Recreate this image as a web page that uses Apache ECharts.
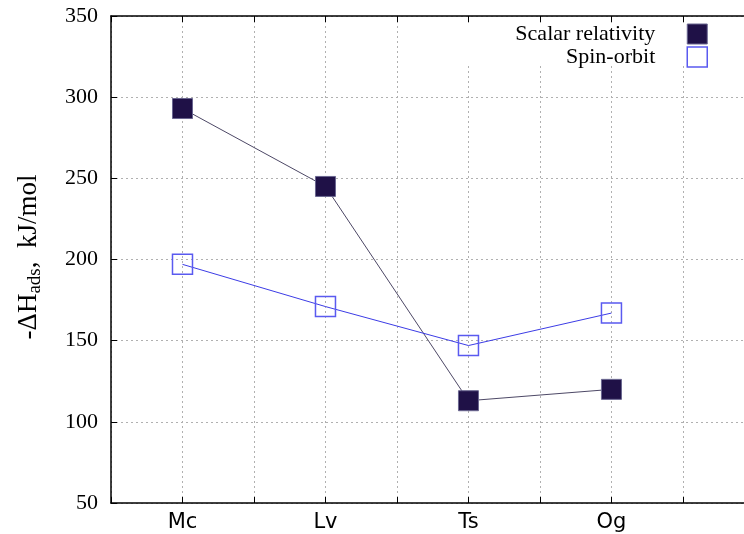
<!DOCTYPE html>
<html>
<head>
<meta charset="utf-8">
<script src="https://cdn.jsdelivr.net/npm/echarts@6/dist/echarts.min.js"></script>
<style>html,body{margin:0;padding:0;background:#fff}#c{width:744px;height:534px}</style>
</head>
<body>
<div id="c"></div>
<script>
var categories = ['Mc', 'Lv', 'Ts', 'Og'];
var scalarRelativity = [293, 245, 113, 120];
var spinOrbit = [197, 171, 147, 167];
var yTicks = [50, 100, 150, 200, 250, 300, 350];

function toPoints(arr) { return arr.map(function (v, i) { return [i + 1, v]; }); }

var chart = echarts.init(document.getElementById('c'));
var serif = 'Liberation Serif';
var gridLine = { show: true, lineStyle: { color: '#b0b0b0', type: [2, 3], width: 1 } };
var xMax = 4.927;
chart.setOption({
  animation: false,
  backgroundColor: '#fff',
  grid: { left: 111, right: 0, top: 16, bottom: 31 },
  legend: {
    orient: 'vertical', right: 36, top: 23, align: 'right', padding: 0,
    itemWidth: 20, itemHeight: 20, itemGap: 1,
    textStyle: { fontFamily: serif, fontSize: 22, lineHeight: 20, color: '#000', padding: [0, 27, 0, 0] },
    data: [
      { name: 'Scalar relativity', icon: 'rect', itemStyle: { color: '#1f1147', borderColor: '#6a6690', borderWidth: 1 } },
      { name: 'Spin-orbit', icon: 'rect', itemStyle: { color: '#fff', borderColor: '#5a5af0', borderWidth: 1.5 } }
    ]
  },
  graphic: [
    { type: 'rect', z: 1, shape: { x: 440, y: 23, width: 310, height: 43 }, style: { fill: '#fff' } },
    {
      type: 'text', z: 10, x: 29, y: 257, rotation: Math.PI / 2,
      style: {
        text: '{a|-ΔH}{s|ads}{a|,  kJ/mol}',
        align: 'center', verticalAlign: 'middle',
        rich: {
          a: { fontFamily: serif, fontSize: 27, fill: '#000', lineHeight: 32, verticalAlign: 'middle' },
          s: { fontFamily: serif, fontSize: 19, fill: '#000', lineHeight: 32, verticalAlign: 'bottom', padding: [10, 0, 0, 0] }
        }
      }
    }
  ],
  xAxis: [{
    type: 'value', min: 0.5, max: xMax, interval: 0.5,
    axisLine: { show: true, lineStyle: { color: '#000', width: 1.5 } },
    axisTick: { show: true, inside: true, length: 6, lineStyle: { color: '#000' } },
    axisLabel: {
      margin: 9, fontFamily: 'DejaVu Sans', fontSize: 21, color: '#000',
      showMaxLabel: false,
      formatter: function (v) { var i = Math.round(v); return (Math.abs(v - i) < 1e-6 && categories[i - 1]) ? categories[i - 1] : ''; }
    },
    splitLine: gridLine
  }, {
    type: 'value', min: 0.5, max: xMax, interval: 0.5, position: 'top',
    axisLine: { show: true, lineStyle: { color: '#000', width: 1.5 } },
    axisTick: { show: true, inside: true, length: 6, lineStyle: { color: '#000' } },
    axisLabel: { show: false }, splitLine: { show: false }
  }],
  yAxis: {
    type: 'value', min: yTicks[0], max: yTicks[yTicks.length - 1], interval: 50,
    axisLine: { show: true, lineStyle: { color: '#000', width: 1.5 } },
    axisTick: { show: true, inside: true, length: 6, lineStyle: { color: '#000' } },
    axisLabel: { margin: 13, fontFamily: serif, fontSize: 22, color: '#000' },
    splitLine: gridLine
  },
  series: [{
    name: 'Scalar relativity', type: 'line', z: 3,
    data: toPoints(scalarRelativity),
    symbol: 'rect', symbolSize: 20,
    lineStyle: { color: '#4d4866', width: 1 },
    itemStyle: { color: '#1f1147', borderColor: '#6a6690', borderWidth: 1 }
  }, {
    name: 'Spin-orbit', type: 'line', z: 3,
    data: toPoints(spinOrbit),
    symbol: 'rect', symbolSize: 20,
    lineStyle: { color: '#3c3ce6', width: 1 },
    itemStyle: { color: 'rgba(255,255,255,0)', borderColor: '#5a5af0', borderWidth: 1.5 }
  }]
});
</script>
</body>
</html>
